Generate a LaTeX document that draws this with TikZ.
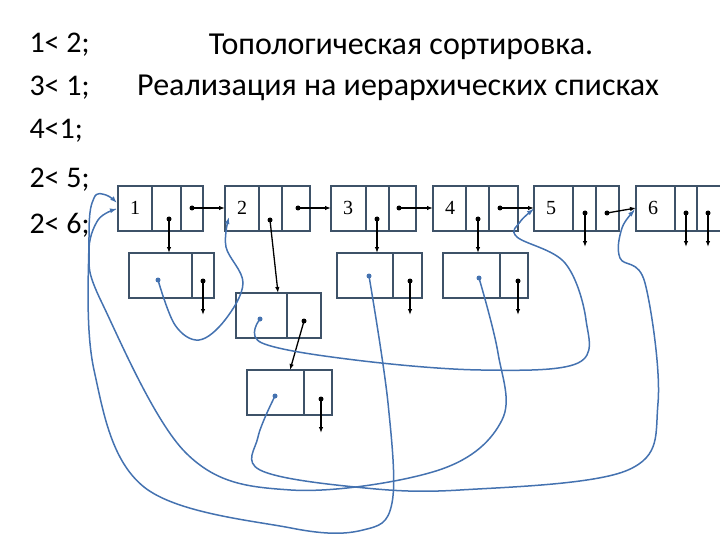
\documentclass[tikz,border=0pt]{standalone}
\usepackage{fontspec}
\setmainfont{Carlito}
\newfontfamily\numfont{Liberation Serif}
\usetikzlibrary{arrows.meta}

\definecolor{boxline}{RGB}{62,82,104}
\definecolor{linkblue}{RGB}{68,114,176}

\begin{document}
\begin{tikzpicture}[x=1pt,y=-1pt,
    box/.style={draw=boxline, line width=1.5pt},
    ptr/.style={line width=1.3pt, -{Latex[length=6pt,width=4.5pt]}},
    link/.style={linkblue, line width=1.5pt, -{Latex[length=7pt,width=5pt]}},
    dot/.style={circle, fill=black, inner sep=0pt, minimum size=5pt},
    bdot/.style={circle, fill=linkblue, inner sep=0pt, minimum size=5pt}]
        \useasboundingbox (0,0) rectangle (720,540);

        % relations and title
        \foreach \t/\y in {1< 2;/45, 3< 1;/88, 4<1;/131, 2< 5;/180, 2< 6;/225}
            \node[anchor=west, font=\fontsize{30}{34}\selectfont] at (26,\y) {\t};
        \node[font=\fontsize{32}{36}\selectfont] (title) at (401,47) {Топологическая сортировка.};
        \node[font=\fontsize{32}{36}\selectfont] (sub) at (398,88) {Реализация на иерархических списках};

        % main list
        \foreach \n/\x/\a/\b in {1/118/152/181, 2/225/259/282, 3/331/366/389, 4/433/466/489, 5/534/573/596, 6/636/675/697}{
            \draw[box] (\x,186) rectangle ++(85,45);
            \draw[box] (\a,186) -- (\a,231) (\b,186) -- (\b,231);
            \node[font=\numfont\fontsize{20}{22}\selectfont] (n\n) at (\x+17,208) {\n};
            \coordinate (in\n) at (\x,208);
        }

        % successor lists
        \foreach \s/\x/\y/\d in {a/129/253/192, b/236/293/287, c/247/370/304, d/337/253/393, e/443/253/500}{
            \draw[box] (\x,\y) rectangle ++(85,45);
            \draw[box] (\d,\y) -- (\d,\y+45);
            \coordinate (top\s) at (\x+42,\y);
        }

        % pointers
        \node[dot] (p1) at (192,208) {};
        \node[dot] (p2) at (298,208) {};
        \node[dot] (p3) at (399,208) {};
        \node[dot] (p4) at (500,208) {};
        \node[dot] (p5) at (607,213) {};
        \draw[ptr] (p1.center) -- (in2);
        \draw[ptr] (p2.center) -- (in3);
        \draw[ptr] (p3.center) -- (in4);
        \draw[ptr] (p4.center) -- (in5);
        \draw[ptr] (p5.center) -- (636,208);

        \node[dot] (s1) at (169,219) {};
        \node[dot] (s2) at (270,220) {};
        \node[dot] (s3) at (377,219) {};
        \node[dot] (s4) at (478,219) {};
        \draw[ptr] (s1.center) -- (169,253);
        \draw[ptr] (s2.center) -- (278,293);
        \draw[ptr] (s3.center) -- (377,253);
        \draw[ptr] (s4.center) -- (478,253);

        \node[dot] (nb) at (304,321) {};
        \draw[ptr] (nb.center) -- (290,370);

        % nil pointers
        \foreach \x/\y in {585/213, 686/213, 708/213, 203/281, 410/281, 518/281, 321/399}{
            \node[dot] at (\x,\y) {};
            \draw[ptr] (\x,\y) -- (\x,\y+34);
        }

        % back links
        \node[bdot] (ka) at (158,280) {};
        \node[bdot] (kb) at (260,319) {};
        \node[bdot] (kc) at (275,396) {};
        \node[bdot] (kd) at (369,276) {};
        \node[bdot] (ke) at (479,278) {};

        \draw[link] plot[smooth, tension=0.6] coordinates {(ka) (175,325) (199,340) (225,320) (243,283) (226,247) (229,217)};
        \draw[link] plot[smooth, tension=0.6] coordinates {(kb) (262,343) (355,360) (481,370) (578,363) (586,320) (565,263) (517,237) (520,222) (534,209)};
        \draw[link] plot[smooth, tension=0.6] coordinates {(kc) (258,437) (260,470) (355,487) (460,490) (628,470) (658,403) (645,283) (620,258) (622,228) (635,210)};
        \draw[link] plot[smooth, tension=0.6] coordinates {(kd) (388,403) (392,503) (363,530) (291,528) (144,487) (94,370) (89,237) (94,198) (106,195) (117,203)};
        \draw[link] plot[smooth, tension=0.6] coordinates {(ke) (498,353) (502,420) (439,470) (291,490) (186,453) (102,303) (89,253) (98,220) (117,209)};

    \end{tikzpicture}
\end{document}
